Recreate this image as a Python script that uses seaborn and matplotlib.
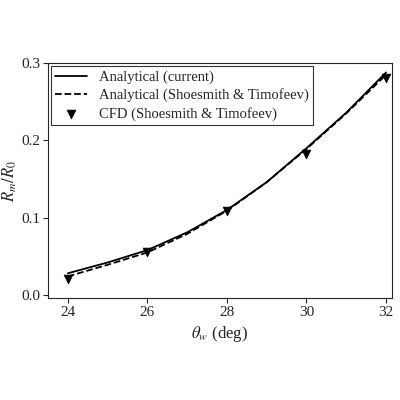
import matplotlib
matplotlib.use("Agg")
import matplotlib.pyplot as plt
import seaborn as sns
import pandas as pd

theta = [24, 25, 26, 27, 28, 29, 30, 31, 32]
current = [0.028, 0.042, 0.058, 0.081, 0.110, 0.146, 0.190, 0.236, 0.288]
shoesmith = [0.024, 0.039, 0.055, 0.079, 0.109, 0.146, 0.189, 0.235, 0.285]
cfd_theta = [24, 26, 28, 30, 32]
cfd = [0.021, 0.055, 0.108, 0.183, 0.281]

sns.set_style("ticks")
plt.rcParams['font.family'] = ['Liberation Serif', 'DejaVu Serif']
plt.rcParams['mathtext.fontset'] = 'stix'

fig, ax = plt.subplots(figsize=(4, 4), dpi=100)
fig.subplots_adjust(left=0.12, right=0.98, bottom=0.255, top=0.842)
df = pd.DataFrame({"t": theta, "c": current, "s": shoesmith})
sns.lineplot(data=df, x="t", y="c", ax=ax, color="black", lw=1.3, label="Analytical (current)")
sns.lineplot(data=df, x="t", y="s", ax=ax, color="black", lw=1.3, ls="--", label="Analytical (Shoesmith & Timofeev)")
sns.scatterplot(x=cfd_theta, y=cfd, ax=ax, color="black", marker="v", s=40, edgecolor="black", label="CFD (Shoesmith & Timofeev)")
ax.set_xlim(23.5, 32.15)
ax.set_ylim(-0.004, 0.3)
ax.set_xticks([24, 26, 28, 30, 32])
ax.set_yticks([0.0, 0.1, 0.2, 0.3])
ax.set_yticklabels(["0.0", "0.1", "0.2", "0.3"])
ax.tick_params(direction="out", labelsize=11, pad=2)
ax.set_xlabel(r"$\theta_w$ (deg)", fontsize=12)
ax.set_ylabel(r"$R_m/R_0$", fontsize=12, labelpad=2)
for s in ax.spines.values():
    s.set_visible(True)
leg = ax.legend(loc="upper left", fontsize=10.5, frameon=True, fancybox=False, edgecolor="black",
                handlelength=2.2, borderpad=0.3, labelspacing=0.3, borderaxespad=0.2)
leg.get_frame().set_linewidth(0.8)
fig.savefig("out.png", dpi=100)
